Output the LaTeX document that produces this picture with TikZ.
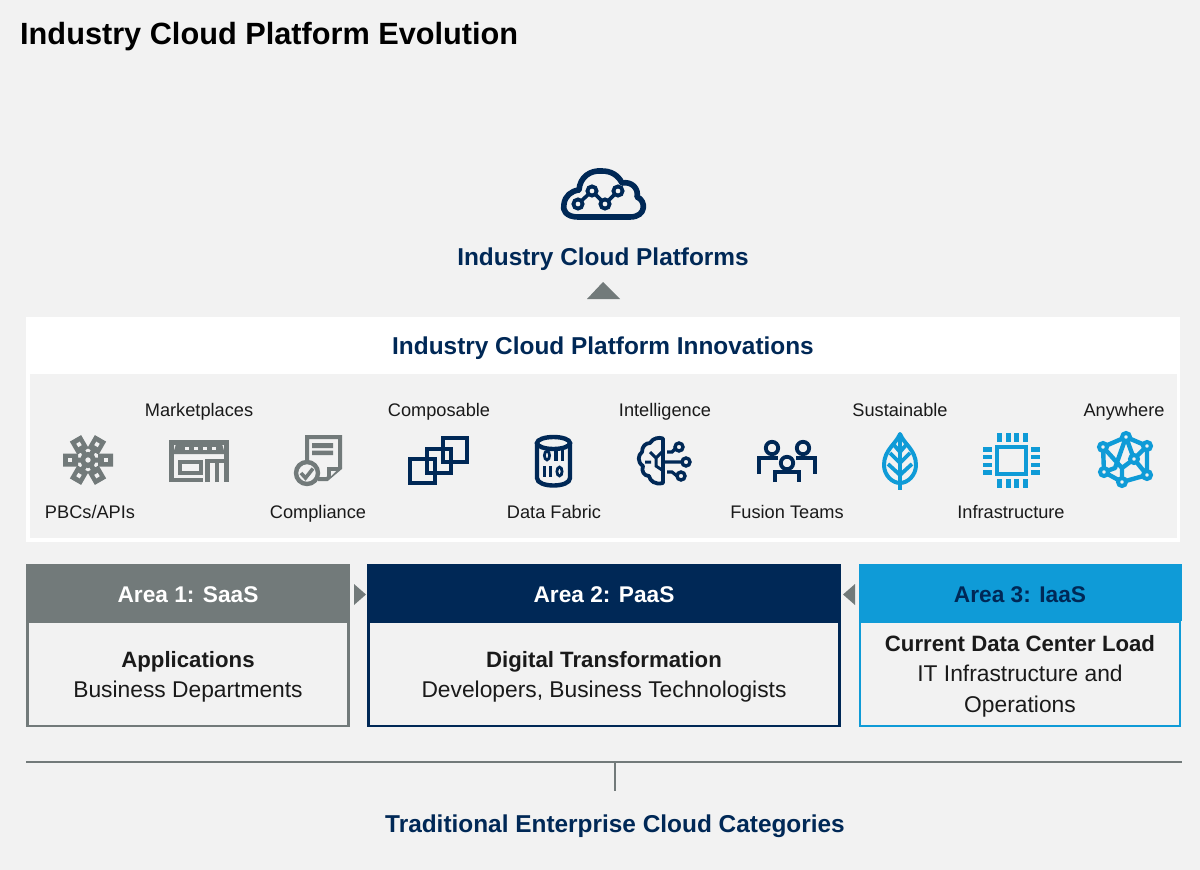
\documentclass[tikz,border=0pt]{standalone}
\usepackage{fontspec}
\setmainfont{Liberation Sans}
\usetikzlibrary{shapes,arrows,positioning,calc}
\definecolor{pagegray}{HTML}{F2F2F2}
\definecolor{areagray}{HTML}{727A7A}
\definecolor{navy}{HTML}{002856}
\definecolor{skyblue}{HTML}{0F9BD7}
\definecolor{inktext}{HTML}{1A1A1A}
\newcommand{\bodybold}[1]{{\fontsize{22.2}{30.5}\selectfont\bfseries #1}}
\tikzstyle{label} = [text=inktext, anchor=base, font=\fontsize{18.2}{20}\selectfont, inner sep=0pt]
\tikzstyle{heading} = [text=navy, font=\fontsize{24.4}{29}\selectfont\bfseries, inner sep=0pt]
\tikzstyle{areahead} = [minimum height=57pt, text height=20pt, text depth=0pt, font=\fontsize{22.7}{27}\selectfont\bfseries, inner sep=0pt]
\tikzstyle{areabox} = [draw, line width=2.6pt, fill=pagegray, minimum height=104pt, inner sep=0pt]
\tikzstyle{areatext} = [text=inktext, align=center, font=\fontsize{22.8}{30.5}\selectfont, inner sep=0pt]
\tikzstyle{icon} = [line width=4pt, line join=miter]

\begin{document}
\begin{tikzpicture}[x=1pt, y=-1pt]
    \useasboundingbox (0,0) rectangle (1200,870);
    \fill [pagegray] (0,0) rectangle (1200,870);
    \node [anchor=west, text=black, font=\fontsize{30.7}{36}\selectfont\bfseries, inner sep=0pt] (title) at (20,36.5) {Industry Cloud Platform Evolution};

    % Top cloud
    \draw [icon, navy, line width=5.6pt, line join=round] (578,217) .. controls (566,217) and (562,210) .. (564,204)
        .. controls (565,196) and (571,191) .. (579,190)
        .. controls (580,177) and (590,170) .. (602,171)
        .. controls (611,171) and (618,175) .. (622,183)
        .. controls (632,181) and (639,189) .. (637,197)
        .. controls (646,200) and (647,217) .. (630,217) -- cycle;
    \draw [navy, line width=3.6pt] (578,204) -- (592,191) -- (605,204) -- (618,191);
    \foreach \x/\y in {578/204, 592/191, 605/204, 618/191}
        \draw [navy, line width=3.8pt, fill=pagegray] (\x,\y) circle (4.6);
    \node [heading] (platforms) at (603,259) {Industry Cloud Platforms};
    \fill [areagray] (587,299) -- (603,282) -- (620,299) -- cycle;

    % Innovations panel
    \fill [white] (26,317) rectangle (1180,542);
    \fill [pagegray] (30,374) rectangle (1177,538);
    \node [heading] (innovations) at (603,348) {Industry Cloud Platform Innovations};

    \node [label] (marketplaces) at (199,416) {Marketplaces};
    \node [label] (composable) at (439,416) {Composable};
    \node [label] (intelligence) at (665,416) {Intelligence};
    \node [label] (sustainable) at (900,416) {Sustainable};
    \node [label] (anywhere) at (1124,416) {Anywhere};
    \node [label] (pbcs) at (90,518) {PBCs/APIs};
    \node [label] (compliance) at (318,518) {Compliance};
    \node [label] (fabric) at (554,518) {Data Fabric};
    \node [label] (fusion) at (787,518) {Fusion Teams};
    \node [label] (infrastructure) at (1011,518) {Infrastructure};

    % PBCs/APIs
    \foreach \a in {0,60,120,180,240,300} {
        \fill [areagray, rotate around={\a:(88,460)}] (98,453.5) rectangle (113,466.5)
            (92,457.5) rectangle (100,462.5);
        \fill [pagegray, rotate around={\a:(88,460)}] (104,458) rectangle (108,462);
    }
    \draw [areagray, line width=5pt, fill=pagegray] (88,460) circle (5.5);

    % Marketplaces
    \draw [icon, areagray, line width=5pt] (171.5,482) -- (171.5,442.5) -- (226,442.5) -- (226,482);
    \fill [areagray] (176,444) -- (222,444) -- (225,454) -- (173,454) -- cycle;
    \foreach \x in {185,194,203,212}
        \fill [pagegray] (\x,447) rectangle +(3.5,3);
    \draw [icon, areagray, line width=4.4pt] (180,462) rectangle (201,473);
    \draw [icon, areagray, line width=4.4pt] (172,480) -- (203,480);
    \draw [icon, areagray, line width=4.6pt] (207.5,482) -- (207.5,461) -- (226,461);
    \draw [icon, areagray, line width=4.6pt] (217,482) -- (217,463);

    % Compliance
    \draw [icon, areagray] (307,462) -- (307,437) -- (340,437) -- (340,468) -- (327,479) -- (318,479);
    \fill [areagray] (327,481) -- (327,467) -- (342,467) -- cycle;
    \fill [pagegray] (331,471) -- (331,476) -- (336,471) -- cycle;
    \fill [areagray] (312,443) rectangle (333,448) (312,450.5) rectangle (333,455);
    \draw [areagray, line width=4.4pt, fill=pagegray] (307,473) circle (11);
    \draw [areagray, line width=3.6pt] (301,473) -- (305.5,478) -- (313,468.5);

    % Composable
    \draw [icon, navy, line width=4.4pt] (410,459) rectangle (435,483);
    \draw [icon, navy, line width=4.4pt] (427,449) rectangle (451,473);
    \draw [icon, navy, line width=4.4pt] (443,438) rectangle (467,462);

    % Data Fabric
    \draw [icon, navy, line width=4.4pt] (537,443) -- (537,478) .. controls (537,488) and (570,488) .. (570,478) -- (570,443);
    \draw [icon, navy, line width=4.4pt] (553.5,443) ellipse (16.5 and 6);
    \foreach \x/\y in {547/455.5, 559.5/471.5} \draw [navy, line width=2.8pt] (\x,\y) ellipse (2.6 and 4.4);
    \foreach \x/\y in {554/450, 560.5/450, 542.5/466, 548.5/466} \fill [navy] (\x,\y) rectangle +(3.6,11);

    % Intelligence
    \draw [icon, navy, line width=3.8pt, line join=round] (663,438.5) -- (663,483) .. controls (655,485) and (650,481) .. (649,476)
        .. controls (644,476) and (641,471) .. (643,466) .. controls (637,462) and (638,455) .. (642,452)
        .. controls (642,446) and (646,443) .. (650,443) .. controls (653,438) and (659,437) .. (663,438.5) -- cycle;
    \draw [navy, line width=3pt] (650,452) -- (656,458) -- (662,452) (656,458) -- (656,466) -- (662,470) (645,462) -- (651,462);
    \draw [navy, line width=3.2pt] (663,462) -- (682,462) (667,452) -- (672,452) -- (676,448) (667,472) -- (672,472) -- (677,476);
    \foreach \x/\y in {679/447, 686/462, 681/476}
        \draw [navy, line width=3.4pt, fill=pagegray] (\x,\y) circle (4);

    % Fusion Teams
    \foreach \x/\y in {772/448, 803/448, 787/463}
        \draw [navy, line width=3.8pt] (\x,\y) circle (6.2);
    \draw [icon, navy] (759,474) -- (759,458) -- (778,458) (796,458) -- (815,458) -- (815,474);
    \draw [icon, navy] (775,482) -- (775,472) -- (799,472) -- (799,482);

    % Sustainable
    \draw [icon, skyblue, line join=round] (900,434) .. controls (896,444) and (884,450) .. (884,465)
        .. controls (884,475) and (892,483) .. (900,483) .. controls (908,483) and (916,475) .. (916,465)
        .. controls (916,450) and (904,444) .. (900,434) -- cycle;
    \draw [icon, skyblue, line width=4.4pt] (900,438) -- (900,490);
    \draw [icon, skyblue, line width=3.8pt] (888,464) -- (900,475) -- (912,464) (890,453) -- (900,463) -- (910,453) (894,445) -- (900,452) -- (906,445);

    % Infrastructure
    \draw [icon, skyblue] (997,447) rectangle (1026,474);
    \foreach \i in {0,1,2,3} {
        \fill [skyblue] ({997+\i*8.6},433) rectangle +(5,9);
        \fill [skyblue] ({997+\i*8.6},479) rectangle +(5,9);
        \fill [skyblue] (983,{447+\i*7.8}) rectangle +(9,4.6);
        \fill [skyblue] (1031,{447+\i*7.8}) rectangle +(9,4.6);
    }

    % Anywhere
    \draw [skyblue, line width=4.4pt, line join=round] (1126,437) -- (1103,447) -- (1104,472) -- (1122,482) -- (1147,475) -- (1147,446) -- cycle
        (1103,447) -- (1122,468) -- (1122,482) (1126,437) -- (1115,468) -- (1104,472)
        (1126,437) -- (1134,459) -- (1122,468) (1134,459) -- (1147,475) (1134,459) -- (1147,446);
    \foreach \x/\y in {1126/437, 1103/447, 1147/446, 1134/459, 1104/472, 1147/475, 1122/482}
        \draw [skyblue, line width=4pt, fill=pagegray] (\x,\y) circle (4);

    % Area columns
    \node [areabox, draw=areagray, minimum width=321pt, anchor=north] (saasbody) at (188,620.5) {};
    \node [areatext, yshift=-3.2pt] (saastext) at (saasbody) {\bodybold{Applications}\\Business Departments};
    \node [areahead, fill=areagray, text=white, minimum width=324pt, anchor=north] (saas) at (188,564) {Area 1: SaaS};
    \node [areabox, draw=navy, minimum width=471pt, anchor=north] (paasbody) at (604,620.5) {};
    \node [areatext, yshift=-3.2pt] (paastext) at (paasbody) {\bodybold{Digital Transformation}\\Developers, Business Technologists};
    \node [areahead, fill=navy, text=white, minimum width=474pt, anchor=north] (paas) at (604,564) {Area 2: PaaS};
    \node [areabox, draw=skyblue, minimum width=320pt, anchor=north] (iaasbody) at (1020,620.5) {};
    \node [areatext, yshift=-2.5pt] (iaastext) at (iaasbody) {\bodybold{Current Data Center Load}\\IT Infrastructure and\\Operations};
    \node [areahead, fill=skyblue, text=navy, minimum width=323pt, anchor=north] (iaas) at (1020,564) {Area 3: IaaS};
    \fill [areagray] (354,584) -- (366,594.5) -- (354,605) -- cycle;
    \fill [areagray] (855,584) -- (843,594.5) -- (855,605) -- cycle;

    % Base line
    \coordinate (baseleft) at (26,762);
    \coordinate (baseright) at (1182,762);
    \coordinate (stemtop) at (615,762);
    \coordinate (stemend) at (615,791);
    \draw [areagray, line width=2.4pt] (baseleft) -- (baseright);
    \draw [areagray, line width=2.4pt] (stemtop) -- (stemend);
    \node [heading] (categories) at (615,826) {Traditional Enterprise Cloud Categories};
\end{tikzpicture}
\end{document}
